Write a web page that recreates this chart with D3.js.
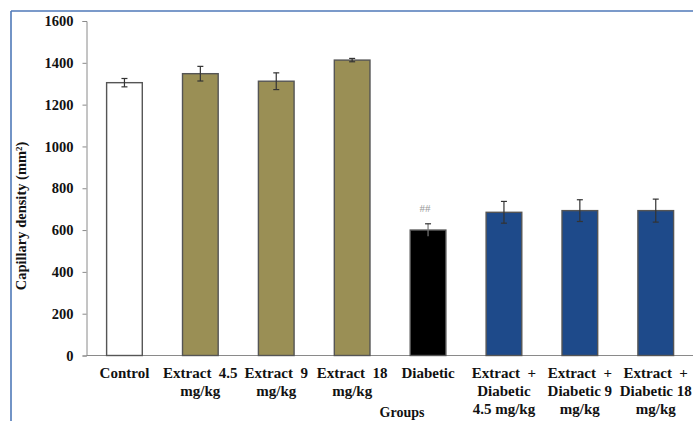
<!DOCTYPE html>
<html>
<head>
<meta charset="utf-8">
<script src="https://cdn.jsdelivr.net/npm/d3@7"></script>
<style>
  html, body { margin: 0; padding: 0; background: #fff; }
  svg { display: block; }
  svg text { font-family: "Liberation Serif", "Times New Roman", serif; font-weight: bold; fill: #111; }
</style>
</head>
<body>
<svg id="chart" width="693" height="421"></svg>
<script>
// Groups and their label lines
const groups = ["Control", "Ext4.5", "Ext9", "Ext18", "Diabetic", "ExtDia4.5", "ExtDia9", "ExtDia18"];
const groupLabels = [
  ["Control"],
  ["Extract  4.5", "mg/kg"],
  ["Extract  9", "mg/kg"],
  ["Extract  18", "mg/kg"],
  ["Diabetic"],
  ["Extract  +", "Diabetic", "4.5 mg/kg"],
  ["Extract  +", "Diabetic 9", "mg/kg"],
  ["Extract  +", "Diabetic 18", "mg/kg"]
];
// Mean capillary density and error (mm²)
const means = [1305, 1348, 1312, 1413, 600, 685, 693, 693];
const errors = [20, 35, 40, 8, 30, 52, 52, 55];
const fills = ["#ffffff", "#9a8f55", "#9a8f55", "#9a8f55", "#000000", "#1e4a8a", "#1e4a8a", "#1e4a8a"];
const marks = ["", "", "", "", "##", "", "", ""];
const yTicks = [0, 200, 400, 600, 800, 1000, 1200, 1400, 1600];

const SERIF = "'Liberation Serif', 'Times New Roman', serif";
const svg = d3.select("#chart");

// frame lines
svg.append("line").attr("x1", 11).attr("x2", 693).attr("y1", 11).attr("y2", 11)
  .attr("stroke", "#4f79b8").attr("stroke-width", 1.6);
svg.append("line").attr("x1", 11).attr("x2", 11).attr("y1", 11).attr("y2", 421)
  .attr("stroke", "#4f79b8").attr("stroke-width", 1.6);

const x = d3.scaleBand().domain(groups).range([86.5, 693.7])
  .paddingInner(0.53).paddingOuter(0.265);
const y = d3.scaleLinear().domain([0, 1600]).range([355.5, 21]);

// y axis
const yAxis = svg.append("g").attr("transform", "translate(86.5,0)")
  .call(d3.axisLeft(y).tickValues(yTicks).tickSize(4).tickPadding(9).tickFormat(d3.format("d")));
yAxis.attr("font-family", SERIF).attr("font-size", 14.5);
yAxis.select(".domain").attr("stroke", "#8a8a8a");
yAxis.selectAll(".tick line").attr("stroke", "#8a8a8a");
yAxis.selectAll(".tick text").style("font-size", "14.5px")
  .style("font-family", SERIF).style("font-weight", "bold").attr("fill", "#111");

// x axis baseline
svg.append("line").attr("x1", x.range()[0]).attr("x2", x.range()[1])
  .attr("y1", y(0)).attr("y2", y(0)).attr("stroke", "#8a8a8a");

// bars
svg.selectAll("rect.bar").data(groups).join("rect")
  .attr("class", "bar")
  .attr("x", d => x(d))
  .attr("y", (d, i) => y(means[i]))
  .attr("width", x.bandwidth())
  .attr("height", (d, i) => y(0) - y(means[i]))
  .attr("fill", (d, i) => fills[i])
  .attr("stroke", "#555")
  .attr("stroke-width", 1.4);

// error bars
const eb = svg.selectAll("g.err").data(groups).join("g").attr("class", "err");
eb.append("line")
  .attr("x1", d => x(d) + x.bandwidth() / 2).attr("x2", d => x(d) + x.bandwidth() / 2)
  .attr("y1", (d, i) => y(means[i] + errors[i])).attr("y2", (d, i) => y(means[i] - errors[i]))
  .attr("stroke", (d, i) => i === 4 ? "#777" : "#333").attr("stroke-width", 1.2);
[1, -1].forEach(s => {
  eb.append("line")
    .attr("x1", d => x(d) + x.bandwidth() / 2 - 3).attr("x2", d => x(d) + x.bandwidth() / 2 + 3)
    .attr("y1", (d, i) => y(means[i] + s * errors[i])).attr("y2", (d, i) => y(means[i] + s * errors[i]))
    .attr("stroke", (d, i) => i === 4 && s < 0 ? "none" : "#333").attr("stroke-width", 1.2);
});

// significance marks
svg.selectAll("text.mark").data(groups).join("text")
  .attr("class", "mark")
  .attr("x", d => x(d) + x.bandwidth() / 2 - 3)
  .attr("y", (d, i) => y(means[i] + errors[i]) - 12)
  .attr("text-anchor", "middle")
  .style("font-family", SERIF)
  .style("font-size", "11px").style("font-weight", "normal").style("fill", "#999")
  .text((d, i) => marks[i]);

// category labels
const lab = svg.selectAll("text.cat").data(groups).join("text")
  .attr("class", "cat")
  .attr("text-anchor", "middle")
  .style("font-family", SERIF)
  .style("font-size", "15px")
  .style("white-space", "pre");
lab.each(function (d, i) {
  const t = d3.select(this);
  groupLabels[i].forEach((line, j) => {
    t.append("tspan")
      .attr("x", x(d) + x.bandwidth() / 2)
      .attr("y", 378 + j * 18)
      .text(line);
  });
});

// axis titles
svg.append("text")
  .attr("transform", "translate(26,216) rotate(-90)")
  .attr("text-anchor", "middle")
  .style("font-family", SERIF)
  .style("font-size", "14.5px")
  .text("Capillary density (mm²)");
svg.append("text")
  .attr("x", 402).attr("y", 417)
  .attr("text-anchor", "middle")
  .style("font-family", SERIF)
  .style("font-size", "14px")
  .text("Groups");
</script>
</body>
</html>
